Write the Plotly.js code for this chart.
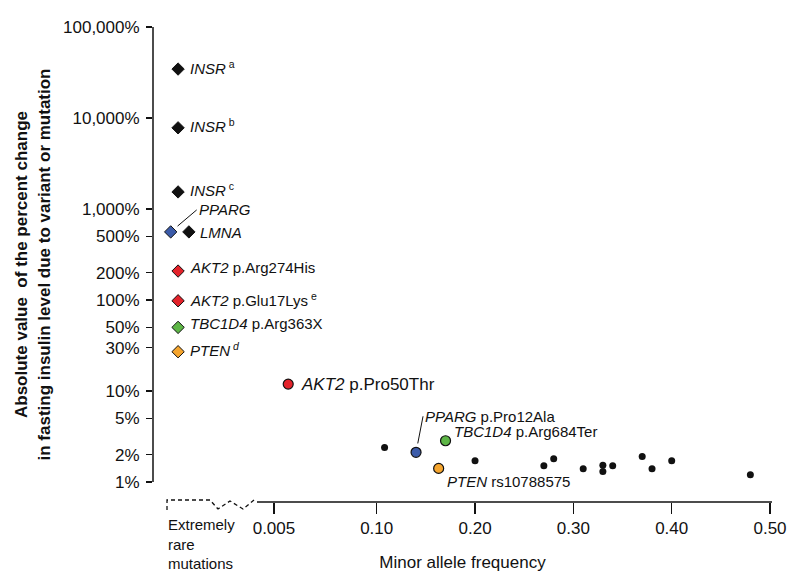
<!DOCTYPE html>
<html><head><meta charset="utf-8">
<script src="https://cdn.plot.ly/plotly-3.0.1.min.js"></script>
<style>html,body{margin:0;padding:0;background:#fff}#chart{width:800px;height:583px}</style>
</head><body><div id="chart"></div>
<script>
// ---------- DATA ----------
// Extremely rare mutations (plotted in the "extremely rare" zone left of the axis break)
const rareGenes  = ['INSR', 'INSR', 'INSR', 'PPARG', 'LMNA', 'AKT2', 'AKT2', 'TBC1D4', 'PTEN'];
const rareLabels = ['<i>INSR</i><sup> a</sup>', '<i>INSR</i><sup> b</sup>', '<i>INSR</i><sup> c</sup>',
                    '<i>PPARG</i>', '<i>LMNA</i>', '<i>AKT2</i> p.Arg274His',
                    '<i>AKT2</i> p.Glu17Lys<sup> e</sup>', '<i>TBC1D4</i> p.Arg363X', '<i>PTEN</i><sup> <i>d</i></sup>'];
const rareChange = [34500, 7800, 1540, 560, 560, 208, 98, 50, 27];   // % change in fasting insulin

// Common / low-frequency variants
const commonGenes  = ['AKT2', 'PPARG', 'TBC1D4', 'PTEN', '', '', '', '', '', '', '', '', '', '', '', ''];
const commonLabels = ['<i>AKT2</i> p.Pro50Thr', '<i>PPARG</i> p.Pro12Ala', '<i>TBC1D4</i> p.Arg684Ter', '<i>PTEN</i> rs10788575',
                      '', '', '', '', '', '', '', '', '', '', '', ''];
const commonMAF    = [0.010, 0.140, 0.170, 0.163, 0.108, 0.200, 0.270, 0.280, 0.310, 0.330, 0.330, 0.340, 0.370, 0.380, 0.400, 0.480];
const commonChange = [11.9, 2.12, 2.84, 1.41, 2.40, 1.71, 1.51, 1.80, 1.40, 1.53, 1.30, 1.51, 1.90, 1.40, 1.71, 1.20];

// Axis ticks
const yTickVals   = [1, 2, 5, 10, 30, 50, 100, 200, 500, 1000, 10000, 100000];
const yTickLabels = ['1%', '2%', '5%', '10%', '30%', '50%', '100%', '200%', '500%', '1,000%', '10,000%', '100,000%'];
const xTickLabels = ['0.005', '0.10', '0.20', '0.30', '0.40', '0.50'];

// ---------- STYLE / LAYOUT CONSTANTS ----------
const FONT = 'Liberation Sans, Arial, Helvetica, sans-serif';
const geneColor = {INSR: '#111111', LMNA: '#111111', PPARG: '#3b5ba9', AKT2: '#e3222a', TBC1D4: '#5db646', PTEN: '#f5a52e', '': '#111111'};
const RARE_ZONE_X = -0.102;                       // where the extremely rare mutations are drawn
const rareJitter = {PPARG: -0.0075, LMNA: 0.011};  // small horizontal separation of overlapping diamonds
const xTickPos = [-0.0045, 0.1, 0.2, 0.3, 0.4, 0.5]; // 0.005 sits right after the axis break
// label offsets in px
const rareLabelOff = {
  0: {dx: 10, dy: 2}, 1: {dx: 10, dy: 2}, 2: {dx: 10, dy: 2},
  3: {ax: 26, ay: -22, arrow: true},
  4: {dx: 9, dy: -1},
  5: {dx: 10, dy: 4},
  6: {dx: 10, dy: 1},
  7: {dx: 10, dy: 4},
  8: {dx: 10, dy: 2}
};
const commonLabelOff = {
  0: {dx: 11, dy: 0, size: 17},
  1: {ax: 7, ay: -36, arrow: true},
  2: {dx: 6, dy: 9},
  3: {dx: 6, dy: -13}
};

// ---------- TRACES ----------
const rareX = rareGenes.map(g => RARE_ZONE_X + (rareJitter[g] || 0));
const rareTrace = {
  type: 'scatter', mode: 'markers', x: rareX, y: rareChange,
  marker: {symbol: 'diamond', size: 9.5, color: rareGenes.map(g => geneColor[g]),
           line: {color: '#111', width: 1}},
  hoverinfo: 'skip', cliponaxis: false
};
const idxLab = [], idxDot = [];
commonLabels.forEach((l, i) => (l ? idxLab : idxDot).push(i));
const commonLabTrace = {
  type: 'scatter', mode: 'markers',
  x: idxLab.map(i => commonMAF[i]), y: idxLab.map(i => commonChange[i]),
  marker: {symbol: 'circle', size: 10, color: idxLab.map(i => geneColor[commonGenes[i]]),
           line: {color: '#111', width: 1.2}},
  hoverinfo: 'skip', cliponaxis: false
};
const commonDotTrace = {
  type: 'scatter', mode: 'markers',
  x: idxDot.map(i => commonMAF[i]), y: idxDot.map(i => commonChange[i]),
  marker: {symbol: 'circle', size: 7, color: '#111'},
  hoverinfo: 'skip', cliponaxis: false
};

// ---------- ANNOTATIONS ----------
const labelFont = {family: FONT, size: 15, color: '#111'};
function makeLabel(x, y, text, off) {
  off = off || {dx: 10, dy: 0};
  const a = {x: x, y: Math.log10(y), xref: 'x', yref: 'y', text: text,
             font: Object.assign({}, labelFont, off.size ? {size: off.size} : {}),
             xanchor: 'left', yanchor: 'middle'};
  if (off.arrow) {
    Object.assign(a, {showarrow: true, ax: off.ax, ay: off.ay, axref: 'pixel', ayref: 'pixel',
                      arrowhead: 0, arrowwidth: 1, arrowcolor: '#111', standoff: 9});
  } else {
    Object.assign(a, {showarrow: false, xshift: off.dx, yshift: off.dy});
  }
  return a;
}
const annotations = [];
rareLabels.forEach((t, i) => annotations.push(makeLabel(rareX[i], rareChange[i], t, rareLabelOff[i])));
commonLabels.forEach((t, i) => { if (t) annotations.push(makeLabel(commonMAF[i], commonChange[i], t, commonLabelOff[i])); });
annotations.push({xref: 'paper', yref: 'paper', x: 0.021, y: -0.026, xanchor: 'left', yanchor: 'top',
  align: 'left', showarrow: false, text: 'Extremely<br>rare<br>mutations',
  font: {family: FONT, size: 15, color: '#111'}});

// ---------- AXIS DECORATION (broken x axis, y axis line) ----------
const W = 619, H = 475, YB = 502; // plot area px size, bottom px
const px = v => (v - 153) / W, py = v => (YB - v) / H;
const axisLine = {color: '#111', width: 1.5};
const shapes = [
  // y axis line from 1% to 100,000%
  {type: 'line', xref: 'paper', yref: 'paper', x0: 0, x1: 0,
   y0: (0 - (-0.22)) / 5.22, y1: 1, line: axisLine},
  // solid x axis after the break
  {type: 'line', xref: 'paper', yref: 'paper', x0: px(257), x1: 1, y0: 0, y1: 0, line: axisLine},
  // dashed segment + zig-zag break
  {type: 'path', xref: 'paper', yref: 'paper',
   path: `M${px(167)},${py(510)} L${px(167)},${py(500)} L${px(210)},${py(500)} L${px(218)},${py(509)} L${px(230)},${py(501)} L${px(243)},${py(509)} L${px(254)},${py(500)}`,
   line: {color: '#111', width: 1.3, dash: '4px,3px'}}
];

const layout = {
  width: 800, height: 583,
  margin: {l: 153, r: 28, t: 27, b: 81, pad: 0},
  paper_bgcolor: '#fff', plot_bgcolor: '#fff',
  showlegend: false,
  font: {family: FONT, color: '#111'},
  xaxis: {
    range: [-0.1275, 0.502], showgrid: false, zeroline: false, showline: false,
    ticks: 'outside', ticklen: 11, tickwidth: 1.5, tickcolor: '#111',
    tickmode: 'array', tickvals: xTickPos, ticktext: xTickLabels,
    tickfont: {family: FONT, size: 17, color: '#111'},
    title: {text: 'Minor allele frequency', font: {family: FONT, size: 17, color: '#111'}, standoff: 18}
  },
  yaxis: {
    type: 'log', range: [-0.22, 5], showgrid: false, zeroline: false, showline: false,
    ticks: 'outside', ticklen: 6, tickwidth: 1.5, tickcolor: '#111',
    tickmode: 'array', tickvals: yTickVals, ticktext: yTickLabels,
    tickfont: {family: FONT, size: 17, color: '#111'}, ticklabelstandoff: 3,
    title: {text: '<b>Absolute value  of the percent change</b><br><b>in fasting insulin level due to variant or mutation</b>',
            font: {family: FONT, size: 17, color: '#111'}, standoff: 8}
  },
  annotations: annotations,
  shapes: shapes
};

Plotly.newPlot('chart', [rareTrace, commonDotTrace, commonLabTrace], layout, {displayModeBar: false, staticPlot: true});
</script>
</body></html>
